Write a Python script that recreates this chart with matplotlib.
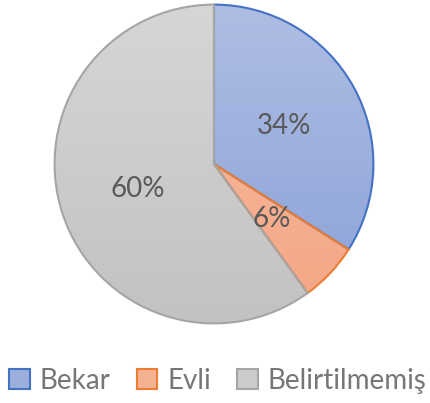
import matplotlib
matplotlib.use("Agg")
import matplotlib.pyplot as plt
import numpy as np
from matplotlib.colors import LinearSegmentedColormap
from matplotlib.patches import Rectangle

categories = ["Bekar", "Evli", "Belirtilmemiş"]
values = [34, 6, 60]
labels = ["34%", "6%", "60%"]

edge_colors = ["#4472C4", "#ED7D31", "#A5A5A5"]
grad_top = ["#aebde3", "#f7bda3", "#d6d6d6"]
grad_bot = ["#8aa1d7", "#f4a684", "#c2c2c2"]
mid_colors = ["#9cafdc", "#f5b293", "#cccccc"]

plt.rcParams['font.family'] = ['Lato', 'DejaVu Sans']

W, H = 431, 403
fig = plt.figure(figsize=(W / 100, H / 100), dpi=100)
cx, cy, r = 214, 164, 161
ax = fig.add_axes([(cx - r) / W, (H - cy - r) / H, 2 * r / W, 2 * r / H])

wedges, texts = ax.pie(values, startangle=90, counterclock=False, radius=1,
                       colors=mid_colors, labels=labels, labeldistance=0.5,
                       wedgeprops=dict(linewidth=1.5),
                       textprops=dict(fontsize=20, color="#595959"))
for t in texts:
    t.set_zorder(10)
    t.set_horizontalalignment("center")
    t.set_verticalalignment("center")
for w, ec, top, bot in zip(wedges, edge_colors, grad_top, grad_bot):
    w.set_edgecolor(ec)
    cmap = LinearSegmentedColormap.from_list("g", [bot, top])
    grad = np.linspace(0, 1, 256).reshape(-1, 1)
    im = ax.imshow(grad, cmap=cmap, origin="lower", extent=[-1, 1, -1, 1],
                   aspect="auto", zorder=w.get_zorder() - 0.1, interpolation="bilinear")
    im.set_clip_path(w)
    w.set_facecolor("none")
    w.set_zorder(3)

ax.set_xlim(-1.01, 1.01)
ax.set_ylim(-1.01, 1.01)
ax.set_aspect("equal")
ax.axis("off")

handles = [Rectangle((0, 0), 1, 1, facecolor=m, edgecolor=e, linewidth=1.5)
           for m, e in zip(mid_colors, edge_colors)]
fig.legend(handles, categories, loc="center", bbox_to_anchor=(0.505, (H - 381) / H),
           ncol=3, frameon=False, fontsize=20, labelcolor="#767676",
           handlelength=0.75, handleheight=0.75, handletextpad=0.35,
           columnspacing=0.95, borderaxespad=0)

fig.savefig("out.png", dpi=100)
